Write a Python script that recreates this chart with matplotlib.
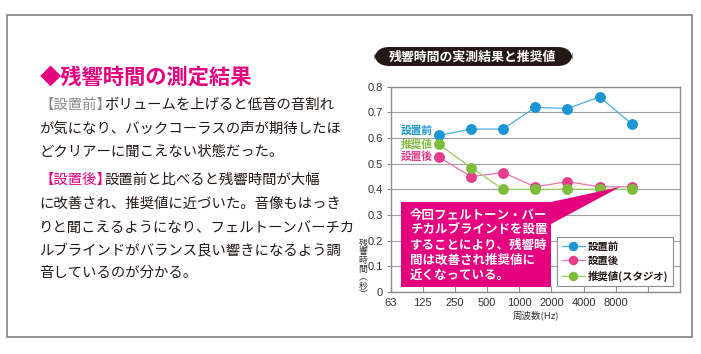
import matplotlib
matplotlib.use('Agg')
import matplotlib.pyplot as plt
from matplotlib.patches import Rectangle, FancyBboxPatch, Polygon

plt.rcParams['font.family'] = ['Noto Sans CJK JP', 'DejaVu Sans']

# ---------------- data ----------------
freqs = [177, 354, 707, 1414, 2828, 5657, 11314]
before = [0.61, 0.635, 0.635, 0.72, 0.715, 0.76, 0.655]
after = [0.525, 0.45, 0.465, 0.41, 0.43, 0.41, 0.41]
recommended = [0.575, 0.485, 0.40, 0.40, 0.40, 0.40, 0.40]
tick_freqs = [63, 125, 250, 500, 1000, 2000, 4000, 8000, 16000]
tick_labels = ['63', '125', '250', '500', '1000', '2000', '4000', '8000', '']
y_ticks = [0, 0.1, 0.2, 0.3, 0.4, 0.5, 0.6, 0.7, 0.8]
y_labels = ['0', '0.1', '0.2', '0.3', '0.4', '0.5', '0.6', '0.7', '0.8']
series_names = ['設置前', '設置後', '推奨値(スタジオ)']
inline_names = ['設置前', '推奨値', '設置後']

chart_title = '残響時間の実測結果と推奨値'
heading = '◆残響時間の測定結果'
para1_label = '【設置前】'
para1 = ['ボリュームを上げると低音の音割れ',
         'が気になり、バックコーラスの声が期待したほ',
         'どクリアーに聞こえない状態だった。']
para2_label = '【設置後】'
para2 = ['設置前と比べると残響時間が大幅',
         'に改善され、推奨値に近づいた。音像もはっき',
         'りと聞こえるようになり、フェルトーンバーチカ',
         'ルブラインドがバランス良い響きになるよう調',
         '音しているのが分かる。']
callout_lines = ['今回フェルトーン・バー',
                 'チカルブラインドを設置',
                 'することにより、残響時',
                 '間は改善され推奨値に',
                 '近くなっている。']

# ---------------- styling ----------------
W, H = 701, 354
def fx(x):
    return x / W
def fy(y):
    return 1 - y / H

BLUE_M, BLUE_L = '#1a96d4', '#4aaee0'
PINK_M, PINK_L = '#e63c8a', '#ee74aa'
GREEN_M, GREEN_L = '#7dbd3a', '#98cc5c'
MAGENTA = '#e4007f'
TEXT = '#231815'
GRAY = '#8c8c8c'

fig = plt.figure(figsize=(W / 100, H / 100), dpi=100)
fig.patch.set_facecolor('white')

# outer frame
fig.add_artist(Rectangle((fx(7), fy(337)), (692 - 7) / W, (337 - 15) / H,
                         transform=fig.transFigure, fill=False,
                         edgecolor=GRAY, lw=1.3))

# ---------------- chart ----------------
ax = fig.add_axes([fx(391), fy(292), (680 - 391) / W, (292 - 86.7) / H])
ax.set_xscale('log')
ax.set_xlim(63, 32000)
ax.set_ylim(0, 0.8)
ax.set_yticks(y_ticks)
ax.set_yticklabels(y_labels)
ax.set_xticks(tick_freqs)
ax.set_xticklabels(tick_labels)
ax.xaxis.set_minor_locator(matplotlib.ticker.NullLocator())
ax.tick_params(axis='x', direction='in', length=4, color=GRAY, labelsize=8,
               labelcolor='#333333', pad=4)
ax.tick_params(axis='y', direction='out', length=3, color=GRAY, labelsize=8,
               labelcolor='#333333', pad=3)
for lab in ax.get_xticklabels() + ax.get_yticklabels():
    lab.set_family(['Liberation Sans', 'DejaVu Sans'])
for sp in ax.spines.values():
    sp.set_color(GRAY)
    sp.set_linewidth(1.0)
ax.yaxis.grid(True, color='#a0a0a0', lw=0.8)
ax.set_axisbelow(True)

series = [(before, BLUE_L, BLUE_M), (after, PINK_L, PINK_M),
          (recommended, GREEN_L, GREEN_M)]
handles = []
for (vals, lc, mc), name in zip(series, series_names):
    ln, = ax.plot(freqs, vals, color=lc, lw=0.9, marker='o', markersize=6.8,
                  markerfacecolor=mc, markeredgecolor=mc, zorder=3, label=name)
    handles.append(ln)

ax.set_xlabel('周波数(Hz)', fontsize=6.8, color='#333333', labelpad=2)

# inline labels
for name, col, y in zip(inline_names, [BLUE_M, GREEN_M, PINK_M], [131, 144, 157]):
    fig.text(fx(401), fy(y), name, color=col, fontsize=7.7, fontweight='bold',
             va='center', ha='left')

# y label (vertical, stacked)
fig.text(fx(363), fy(269), '残\n響\n時\n間\n︵\n秒\n︶', fontsize=6.4,
         color='#333333', ha='center', va='center', linespacing=0.95)

# legend
leg = ax.legend(handles=handles, loc='upper left',
                bbox_to_anchor=(fx(557), fy(237)),
                bbox_transform=fig.transFigure, frameon=True, fancybox=False,
                edgecolor=GRAY, framealpha=1, borderaxespad=0,
                prop={'size': 7.5, 'weight': 'bold'}, handlelength=2.2,
                handletextpad=0.3, labelspacing=0.42, borderpad=0.45,
                markerscale=0.85)
leg.get_frame().set_linewidth(0.8)
for t in leg.get_texts():
    t.set_color(TEXT)

# callout box with pointer
callout = Polygon([(fx(401), fy(202)), (fx(551), fy(202)), (fx(620), fy(187)),
                   (fx(551), fy(224)), (fx(551), fy(287)), (fx(401), fy(287))],
                  closed=True, transform=fig.transFigure, facecolor=MAGENTA,
                  edgecolor='none', zorder=5)
fig.add_artist(callout)
for i, line in enumerate(callout_lines):
    t = fig.text(fx(410), fy(215 + i * 15), line, color='white', fontsize=9,
                 fontweight='bold', va='center', ha='left')
    t.set_zorder(6)

# chart title banner
banner = FancyBboxPatch((fx(374), fy(66)), (573 - 374) / W, (66 - 47) / H,
                        boxstyle='round,pad=0,rounding_size=0.022',
                        transform=fig.transFigure, facecolor=TEXT,
                        edgecolor='none', mutation_aspect=W / H)
fig.add_artist(banner)
fig.text(fx(473), fy(56.5), chart_title, color='white', fontsize=9.3,
         fontweight='bold', ha='center', va='center')

# ---------------- left text ----------------
fig.text(fx(40), fy(77), heading, color=MAGENTA, fontsize=15.3,
         fontweight='bold', ha='left', va='center')

fig.canvas.draw()
renderer = fig.canvas.get_renderer()
FS = 10.35
EM = FS * 100 / 72
ys1 = [105, 129, 152]
ys2 = [180, 204, 228, 251, 273]

def draw_para(label, label_color, lines, ys):
    lt = fig.text(fx(39), fy(ys[0]), label, color=label_color, fontsize=FS,
                  ha='left', va='center')
    bb = lt.get_window_extent(renderer)
    x_after = (bb.x1 - 0.45 * EM) / W
    for i, (line, y) in enumerate(zip(lines, ys)):
        x = x_after if i == 0 else fx(39)
        fig.text(x, fy(y), line, color=TEXT, fontsize=FS, ha='left',
                 va='center')

draw_para(para1_label, '#8a8a8a', para1, ys1)
draw_para(para2_label, MAGENTA, para2, ys2)

fig.savefig('out.png', dpi=100, facecolor='white')
